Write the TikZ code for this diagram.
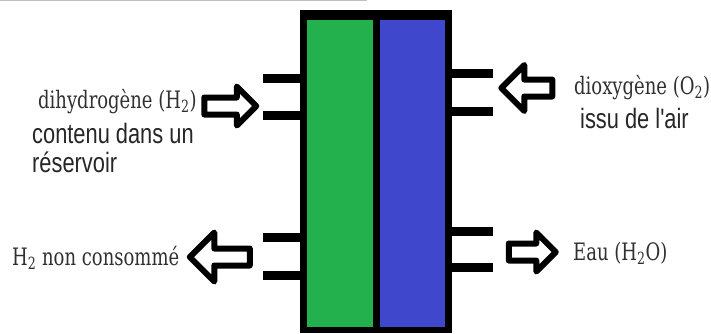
\documentclass[tikz,border=0pt]{standalone}
\usepackage{fontspec}
\newfontfamily\slabfont[FakeStretch=0.75]{DejaVu Serif}
\newfontfamily\narrowfont[FakeStretch=0.78]{Liberation Sans}
\usetikzlibrary{shapes.arrows}
\definecolor{pilegreen}{HTML}{22B14C}
\definecolor{pileblue}{HTML}{3F48CC}
\definecolor{labelgray}{HTML}{303030}

\begin{document}
\begin{tikzpicture}[
  x=1pt, y=-1pt,
  port/.style={line width=9pt},
  bigarrow/.style={single arrow, draw=black, fill=white, line width=6pt, line join=round, inner xsep=0pt, inner ysep=5.5pt, single arrow head indent=0pt},
  slab/.style={font=\slabfont\fontsize{24}{26}\selectfont, text=labelgray, inner sep=0pt, anchor=west},
  narrow/.style={font=\narrowfont\fontsize{28}{30}\selectfont, text=black!85, inner sep=0pt, anchor=west}
]
\useasboundingbox (0,0) rectangle (711,333);
\draw[gray!50, line width=1pt] (0,0.5) -- (367,0.5);

% Cell
\fill[black] (300,10) rectangle (452,333);
\fill[pilegreen] (307,20) rectangle (373,327);
\fill[pileblue] (380,20) rectangle (445,327);

% Ports
\draw[port] (263,78) -- (303,78);
\draw[port] (263,115) -- (303,115);
\draw[port] (263,237) -- (303,237);
\draw[port] (263,275) -- (303,275);
\draw[port] (449,73) -- (493,73);
\draw[port] (449,111) -- (493,111);
\draw[port] (449,231) -- (493,231);
\draw[port] (449,267) -- (493,267);

% Arrows
\node[bigarrow, minimum height=52pt, single arrow head extend=11pt] (inH2) at (226,106) {};
\node[bigarrow, shape border rotate=180, minimum height=51pt, single arrow head extend=14.5pt] (inO2) at (531,88) {};
\node[bigarrow, shape border rotate=180, minimum height=60pt, single arrow head extend=16pt] (outH2) at (224,257) {};
\node[bigarrow, minimum height=47pt, single arrow head extend=11pt] (outH2O) at (528,252) {};

% Labels
\node[slab] (lblH2) at (38,102) {dihydrogène (H\textsubscript{2})};
\node[narrow] (lblres1) at (32,133) {contenu dans un};
\node[narrow] (lblres2) at (32,162) {réservoir};
\node[slab] (lblO2) at (574,88) {dioxygène (O\textsubscript{2})};
\node[narrow] (lblair) at (580,118) {issu de l'air};
\node[slab] (lblrest) at (12,258) {H\textsubscript{2} non consommé};
\node[slab] (lbleau) at (573,253) {Eau (H\textsubscript{2}O)};
\end{tikzpicture}
\end{document}
